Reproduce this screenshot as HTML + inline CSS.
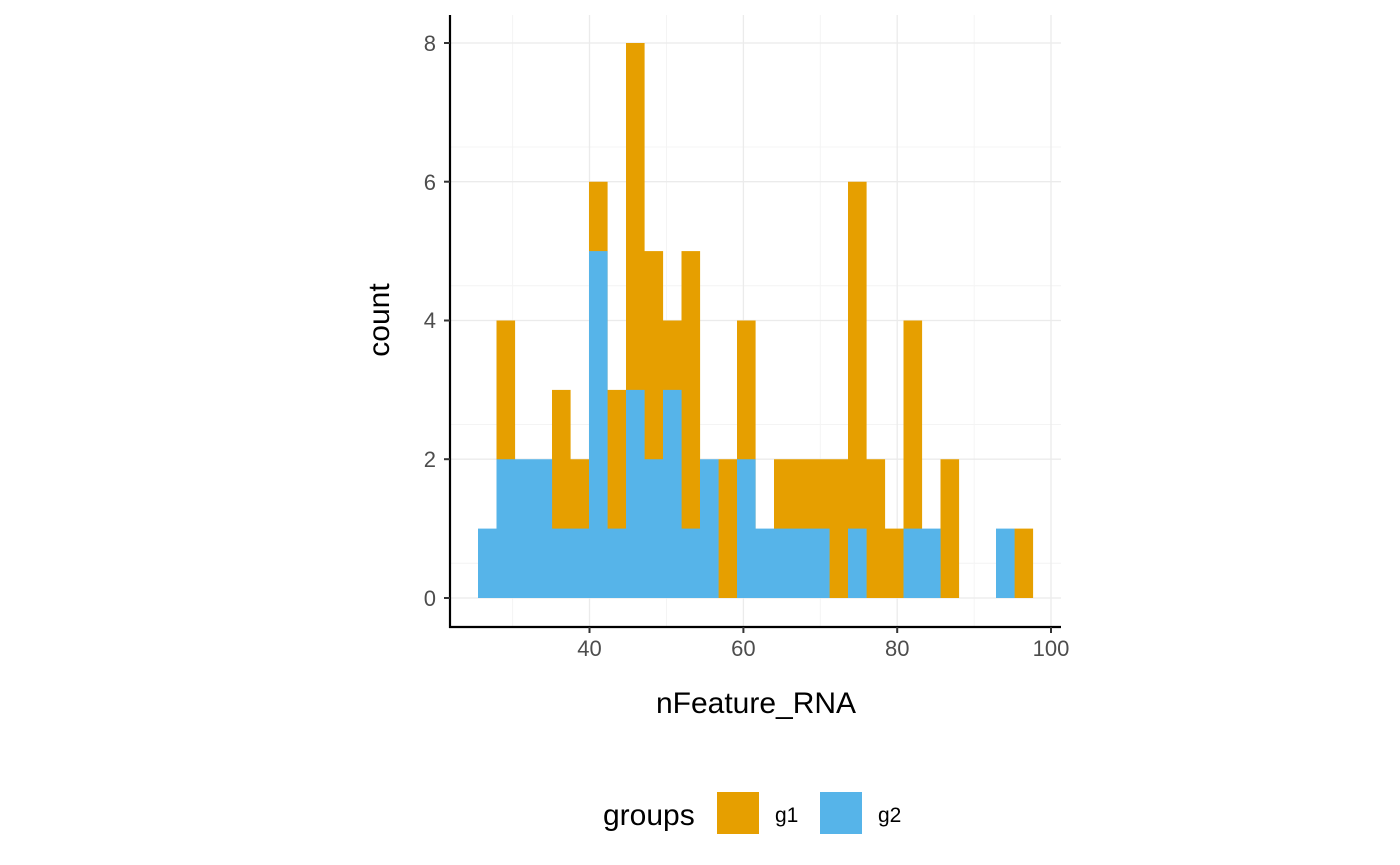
<!DOCTYPE html>
<html><head><meta charset="utf-8"><style>
html,body{margin:0;padding:0;background:#fff;}
svg{display:block;font-family:"Liberation Sans",sans-serif;}
</style></head><body>
<svg width="1400" height="865" viewBox="0 0 1400 865" xmlns="http://www.w3.org/2000/svg">
<g stroke="#f4f4f4" stroke-width="1">
<line x1="450" x2="1061" y1="563.3" y2="563.3"/><line x1="450" x2="1061" y1="424.5" y2="424.5"/>
<line x1="450" x2="1061" y1="285.8" y2="285.8"/><line x1="450" x2="1061" y1="147" y2="147"/>
<line x1="512.6" x2="512.6" y1="15" y2="627"/><line x1="666.5" x2="666.5" y1="15" y2="627"/>
<line x1="820.3" x2="820.3" y1="15" y2="627"/><line x1="974.2" x2="974.2" y1="15" y2="627"/>
</g>
<g stroke="#ebebeb" stroke-width="1.3">
<line x1="450" x2="1061" y1="598" y2="598"/><line x1="450" x2="1061" y1="459.2" y2="459.2"/>
<line x1="450" x2="1061" y1="320.5" y2="320.5"/><line x1="450" x2="1061" y1="181.7" y2="181.7"/>
<line x1="450" x2="1061" y1="43" y2="43"/>
<line x1="589.5" x2="589.5" y1="15" y2="627"/><line x1="743.4" x2="743.4" y1="15" y2="627"/>
<line x1="897.2" x2="897.2" y1="15" y2="627"/><line x1="1051" x2="1051" y1="15" y2="627"/>
</g>
<g fill="#E69F00">
<rect x="496.5" y="320.5" width="18.6" height="277.5"/>
<rect x="552" y="389.9" width="18.6" height="208.1"/>
<rect x="570.5" y="459.25" width="18.6" height="138.75"/>
<rect x="589" y="181.75" width="18.6" height="416.25"/>
<rect x="607.5" y="389.9" width="18.6" height="208.1"/>
<rect x="626" y="43" width="18.6" height="555"/>
<rect x="644.5" y="251.1" width="18.6" height="346.9"/>
<rect x="663" y="320.5" width="18.6" height="277.5"/>
<rect x="681.5" y="251.1" width="18.6" height="346.9"/>
<rect x="718.5" y="459.25" width="18.6" height="138.75"/>
<rect x="737" y="320.5" width="18.6" height="277.5"/>
<rect x="774" y="459.25" width="74.1" height="138.75"/>
<rect x="848" y="181.75" width="18.6" height="416.25"/>
<rect x="866.5" y="459.25" width="18.6" height="138.75"/>
<rect x="885" y="528.6" width="18.6" height="69.4"/>
<rect x="903.5" y="320.5" width="18.6" height="277.5"/>
<rect x="940.5" y="459.25" width="18.6" height="138.75"/>
<rect x="1014.5" y="528.6" width="18.6" height="69.4"/>
</g>
<g fill="#56B4E9">
<rect x="478" y="528.6" width="18.6" height="69.4"/>
<rect x="496.5" y="459.25" width="55.6" height="138.75"/>
<rect x="552" y="528.6" width="37.1" height="69.4"/>
<rect x="589" y="251.1" width="18.6" height="346.9"/>
<rect x="607.5" y="528.6" width="18.6" height="69.4"/>
<rect x="626" y="389.9" width="18.6" height="208.1"/>
<rect x="644.5" y="459.25" width="18.6" height="138.75"/>
<rect x="663" y="389.9" width="18.6" height="208.1"/>
<rect x="681.5" y="528.6" width="18.6" height="69.4"/>
<rect x="700" y="459.25" width="18.6" height="138.75"/>
<rect x="737" y="459.25" width="18.6" height="138.75"/>
<rect x="755.5" y="528.6" width="74.1" height="69.4"/>
<rect x="848" y="528.6" width="18.6" height="69.4"/>
<rect x="903.5" y="528.6" width="37.1" height="69.4"/>
<rect x="996" y="528.6" width="18.6" height="69.4"/>
</g>
<g stroke="#000" stroke-width="2.2" fill="none">
<line x1="450" y1="15" x2="450" y2="628"/><line x1="449" y1="627" x2="1061" y2="627"/>
</g>
<g stroke="#333" stroke-width="2">
<line x1="444" x2="450" y1="598" y2="598"/><line x1="444" x2="450" y1="459.2" y2="459.2"/>
<line x1="444" x2="450" y1="320.5" y2="320.5"/><line x1="444" x2="450" y1="181.7" y2="181.7"/>
<line x1="444" x2="450" y1="43" y2="43"/>
<line x1="589.5" x2="589.5" y1="627" y2="633"/><line x1="743.4" x2="743.4" y1="627" y2="633"/>
<line x1="897.2" x2="897.2" y1="627" y2="633"/><line x1="1051" x2="1051" y1="627" y2="633"/>
</g>
<g fill="#4d4d4d" font-size="22" text-anchor="end">
<text x="436" y="606">0</text><text x="436" y="467">2</text><text x="436" y="328">4</text>
<text x="436" y="190">6</text><text x="436" y="51">8</text>
</g>
<g fill="#4d4d4d" font-size="22" text-anchor="middle">
<text x="589.5" y="656">40</text><text x="743.4" y="656">60</text><text x="897.2" y="656">80</text><text x="1051" y="656">100</text>
</g>
<text x="756" y="713" font-size="30" text-anchor="middle" fill="#000">nFeature_RNA</text>
<text transform="translate(389,320) rotate(-90)" font-size="30" text-anchor="middle" fill="#000">count</text>
<text x="603" y="825" font-size="30" fill="#000">groups</text>
<rect x="717" y="792" width="42" height="42" fill="#E69F00"/>
<text x="775" y="822" font-size="21" fill="#000">g1</text>
<rect x="820" y="792" width="42" height="42" fill="#56B4E9"/>
<text x="878" y="822" font-size="21" fill="#000">g2</text>
</svg>
</body></html>
